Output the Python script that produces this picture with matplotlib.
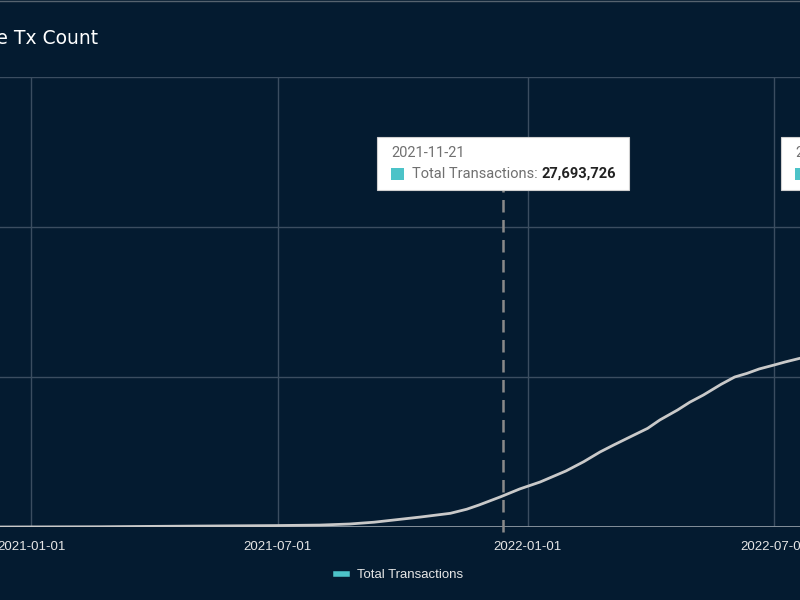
import pandas as pd
import matplotlib
matplotlib.use('Agg')
import matplotlib.pyplot as plt
import matplotlib.dates as mdates
from matplotlib.lines import Line2D
from matplotlib.patches import Rectangle

# cumulative tx count, millions
dates = ['2020-12-09', '2021-02-20', '2021-05-05', '2021-07-01', '2021-08-01',
         '2021-08-23', '2021-09-10', '2021-09-29', '2021-10-14', '2021-11-05',
         '2021-11-17', '2021-11-26', '2021-12-12', '2021-12-26', '2022-01-10',
         '2022-01-29', '2022-02-11', '2022-02-23', '2022-03-05', '2022-03-17',
         '2022-03-30', '2022-04-08', '2022-04-21', '2022-04-30', '2022-05-10',
         '2022-05-23', '2022-06-02', '2022-06-11', '2022-06-20', '2022-07-01',
         '2022-07-09', '2022-07-20']
total_tx = [0.0, 0.2, 0.8, 1.2, 1.6, 2.5, 4.0, 6.4, 8.3, 11.4,
            14.8, 18.3, 25.2, 31.7, 37.5, 46.7, 54.4, 62.5, 68.3, 75.0,
            82.2, 89.2, 97.5, 104.0, 110.0, 118.9, 125.0, 128.0, 131.7, 135.0,
            137.5, 140.6]
xticks = ['2021-01-01', '2021-07-01', '2022-01-01', '2022-07-01']
yticks = [0, 125, 250, 375]
x_range = ['2020-12-09', '2022-07-20']
hover_x = '2021-12-14'

bg = '#041b30'
grid = '#3b4d60'

df = pd.DataFrame({'date': pd.to_datetime(dates), 'tx': total_tx})

fig = plt.figure(figsize=(8, 6), dpi=100, facecolor=bg)
ax = fig.add_axes([0, 73 / 600, 1, 450 / 600])
ax.set_facecolor(bg)

ax.plot(df.date, df.tx, color='#c9c9c9', lw=2.0, zorder=4,
        solid_joinstyle='round')
ax.axhline(0, color='#8f99a3', lw=2, zorder=3)
ax.axvline(pd.Timestamp(hover_x), ymin=-0.01, ymax=(527 - 189) / 450,
           color='#8a8a8a', lw=1.8, ls=(0, (5, 3)), zorder=5, clip_on=False)

ax.set_xlim(pd.Timestamp(x_range[0]), pd.Timestamp(x_range[1]))
ax.set_ylim(0, 375)
ax.set_xticks(pd.to_datetime(xticks))
ax.xaxis.set_major_formatter(mdates.DateFormatter('%Y-%m-%d'))
ax.set_yticks(yticks)
ax.set_yticklabels([])
ax.grid(True, color=grid, lw=1)
ax.tick_params(axis='both', length=0, pad=10)
ax.tick_params(axis='x', colors='#e6e6e6', labelsize=9.5)
for lab in ax.get_xticklabels():
    lab.set_family(['Liberation Sans', 'DejaVu Sans'])
for s in ax.spines.values():
    s.set_visible(False)

# title, cut at the left edge
fig.text(98 / 800, 1 - 38 / 600, 'Cumulative Tx Count', color='white',
         fontsize=13.5, ha='right', va='center', family='DejaVu Sans')
fig.add_artist(Line2D([0, 1], [1 - 0.5 / 600, 1 - 0.5 / 600], color='#56636f',
                      lw=1, transform=fig.transFigure))

# tooltips
def tooltip(x0, label, value):
    fig.add_artist(Rectangle((x0 / 800, 1 - 190 / 600), 252 / 800, 53 / 600,
                             transform=fig.transFigure, facecolor='white',
                             edgecolor='#d0d0d0', lw=0.8, zorder=10))
    fig.text((x0 + 14) / 800, 1 - 153 / 600, label, color='#707070',
             fontsize=10.5, family='Roboto', va='center', zorder=11)
    fig.add_artist(Rectangle(((x0 + 14) / 800, 1 - 180 / 600), 13 / 800, 12 / 600,
                             transform=fig.transFigure, facecolor='#4cc3c8',
                             edgecolor='none', zorder=11))
    fig.text((x0 + 35) / 800, 1 - 174 / 600, 'Total Transactions: ',
             color='#707070', fontsize=10.5, family='Roboto', va='center',
             zorder=11)
    if value:
        fig.text((x0 + 165) / 800, 1 - 174 / 600, value, color='#222222',
                 fontsize=10.5, family='Roboto', fontweight='bold', va='center',
                 zorder=11)

tooltip(377, '2021-11-21', '27,693,726')
tooltip(781, '2022-07-18', '')

handle = Line2D([], [], color='#4cc3c8', lw=4)
leg = fig.legend([handle], ['Total Transactions'], loc='center',
                 bbox_to_anchor=(400 / 800, 1 - 575 / 600), frameon=False,
                 handlelength=0.8, handletextpad=0.8,
                 prop={'family': 'Liberation Sans', 'size': 9.5})
for t in leg.get_texts():
    t.set_color('#e6e6e6')

fig.savefig('out.png', dpi=100, facecolor=bg)
